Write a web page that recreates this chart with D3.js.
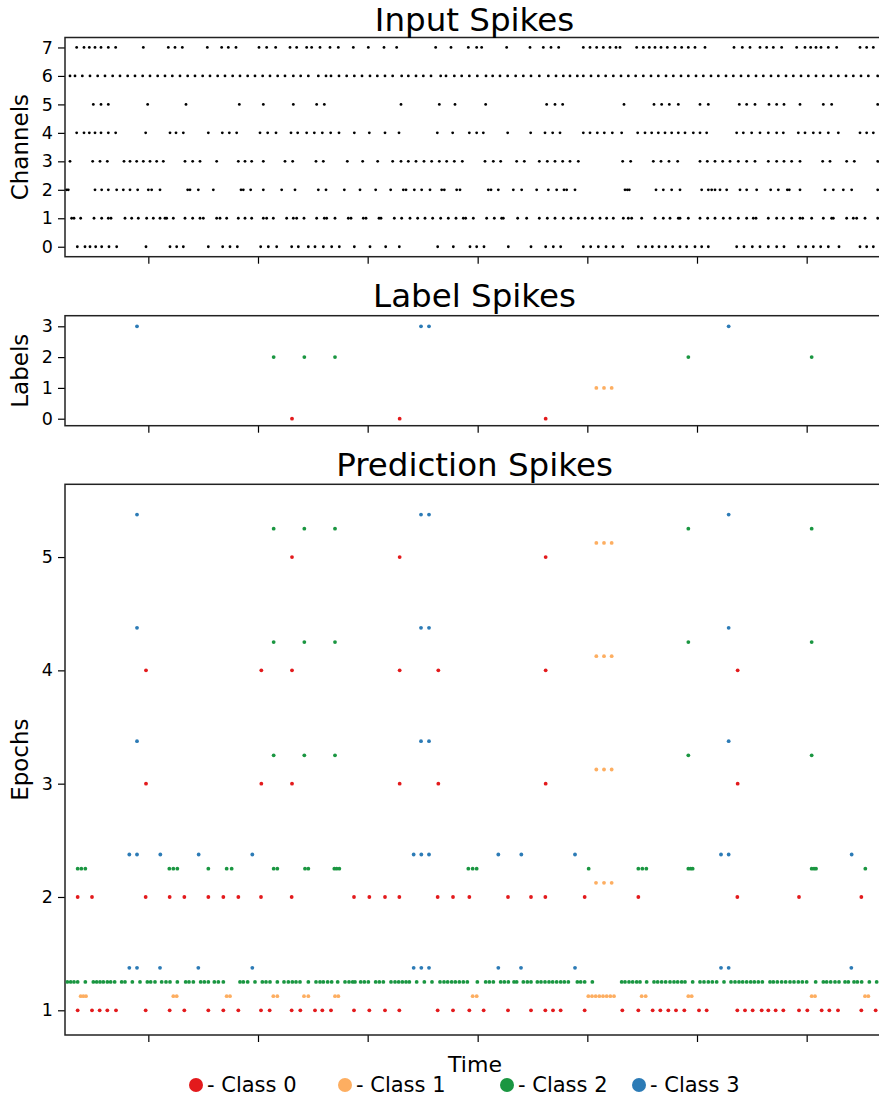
<!DOCTYPE html>
<html><head><meta charset="utf-8">
<script src="https://cdn.jsdelivr.net/npm/d3@7"></script>
<style>body{margin:0;background:#fff;} svg{display:block;font-family:"DejaVu Sans",sans-serif;}</style>
</head><body><svg id="c" width="879" height="1100"></svg>
<script>
// ---- time axis (ms) ----
const timeDomain = [0, 2457];
const timeTicks = [250, 579, 908, 1238, 1567, 1896, 2225];

// ---- input spikes per channel ----
const ch0 = [37,60,75,92,110,132,155,243,315,335,355,430,473,495,517,587,610,635,680,700,730,750,775,800,823,868,915,962,1003,1118,1165,1215,1235,1257,1330,1398,1442,1465,1487,1555,1577,1600,1623,1645,1673,1720,1742,1762,1782,1802,1823,1845,1865,1890,1910,1930,2015,2037,2062,2085,2110,2135,2157,2200,2222,2245,2267,2290,2322,2385,2405,2425];
const ch1 = [20,27,47,87,110,130,138,180,200,220,245,265,285,300,305,325,360,383,405,415,455,465,485,520,540,560,595,605,625,665,685,695,717,755,778,785,810,850,858,895,903,942,948,988,1010,1035,1058,1080,1103,1127,1150,1173,1195,1202,1225,1265,1288,1310,1315,1358,1385,1423,1447,1470,1495,1518,1540,1560,1582,1605,1625,1645,1675,1690,1700,1730,1770,1795,1815,1840,1845,1870,1905,1928,1950,1975,1995,2020,2045,2065,2073,2110,2135,2155,2180,2205,2213,2240,2275,2300,2305,2345,2365,2375,2400,2438];
const ch2 = [5,10,90,110,130,155,175,195,218,250,260,285,368,375,400,445,528,535,557,595,650,690,760,783,838,885,932,977,1015,1023,1048,1070,1095,1130,1138,1175,1185,1270,1278,1300,1345,1370,1415,1450,1475,1497,1505,1530,1680,1687,1693,1773,1795,1820,1845,1910,1930,1940,1950,1965,1985,2025,2045,2075,2117,2140,2167,2173,2205,2280,2305,2335,2360,2438];
const ch3 = [15,83,105,127,177,195,215,235,255,275,295,360,383,405,455,520,540,560,595,660,683,753,775,847,893,938,983,1008,1030,1053,1077,1100,1123,1145,1168,1192,1260,1285,1307,1355,1378,1423,1447,1470,1493,1515,1540,1673,1697,1765,1788,1812,1838,1905,1927,1950,1973,1995,2020,2045,2070,2110,2135,2157,2180,2205,2273,2295,2345,2368,2438];
const ch4 = [35,57,73,90,108,130,152,242,315,333,355,430,472,493,515,585,608,633,678,698,725,748,772,797,822,868,913,960,1002,1117,1163,1213,1235,1255,1328,1397,1440,1463,1485,1555,1575,1597,1618,1642,1670,1718,1740,1760,1780,1800,1820,1840,1860,1885,1905,1925,2015,2035,2060,2085,2110,2135,2155,2200,2220,2245,2265,2290,2320,2385,2405,2425];
const ch5 = [85,108,130,248,363,523,595,685,755,778,1008,1123,1170,1262,1445,1470,1493,1677,1767,1790,1813,1840,1905,1930,2023,2045,2070,2112,2135,2157,2205,2275,2300,2438];
const ch6 = [15,30,52,75,98,120,143,165,188,210,233,255,278,300,322,345,368,390,413,435,458,480,503,525,548,570,593,615,638,660,685,707,730,760,783,798,822,845,868,891,915,937,960,983,1010,1030,1053,1075,1098,1127,1143,1168,1190,1213,1237,1263,1283,1305,1328,1352,1375,1398,1423,1450,1473,1495,1515,1537,1555,1578,1600,1622,1645,1668,1690,1712,1735,1758,1780,1803,1825,1848,1870,1893,1915,1938,1960,1983,2005,2028,2050,2073,2095,2118,2140,2163,2185,2208,2230,2253,2275,2298,2320,2343,2365,2388,2410,2438];
const ch7 = [35,57,73,90,108,130,152,235,310,330,352,427,470,490,513,582,605,632,675,695,725,740,765,795,820,865,910,957,995,1112,1158,1210,1235,1250,1325,1395,1435,1458,1481,1555,1575,1595,1615,1635,1653,1665,1715,1735,1753,1770,1788,1807,1830,1850,1870,1890,1920,2007,2032,2055,2085,2105,2125,2150,2195,2220,2237,2253,2268,2290,2315,2385,2405,2425];
const channelTicks = [0,1,2,3,4,5,6,7];

// ---- label spikes ----
const label0 = [681,1004,1442];
const label1 = [1594,1617,1640];
const label2 = [626,718,810,1870,2240];
const label3 = [216,1068,1092,1991];
const labelTicks = [0,1,2,3];

// ---- prediction spikes (class, epoch) ----
const c0e5 = [681,1004,1442];
const c1e5 = [1594,1617,1640];
const c2e5 = [626,718,810,1870,2240];
const c3e5 = [216,1068,1092,1991];
const c0e4 = [243,589,681,1004,1120,1442,2018];
const c1e4 = [1594,1617,1640];
const c2e4 = [626,718,810,1870,2240];
const c3e4 = [216,1068,1092,1991];
const c0e3 = [243,589,681,1004,1120,1442,2018];
const c1e3 = [1594,1617,1640];
const c2e3 = [626,718,810,1870,2240];
const c3e3 = [216,1068,1092,1991];
const c0e2 = [38,81,242,314,358,430,475,520,588,680,867,913,960,1003,1118,1164,1213,1329,1398,1441,1559,1720,2017,2202,2389];
const c1e2 = [1593,1617,1640];
const c2e2 = [38,49,61,313,325,337,430,485,500,626,637,720,730,808,815,823,1210,1223,1235,1571,1720,1732,1744,1870,1877,1883,2240,2247,2253,2401];
const c3e2 = [193,216,286,401,562,1046,1069,1092,1300,1369,1530,1968,1991,2360];
const c0e1 = [38,81,104,127,153,242,314,358,430,475,520,588,614,680,706,750,772,798,867,913,960,1003,1118,1164,1213,1256,1329,1398,1441,1464,1487,1559,1672,1720,1763,1786,1810,1833,1858,1902,1925,2017,2040,2063,2090,2110,2132,2155,2202,2227,2270,2293,2319,2389,2432];
const c1e1 = [47,55,63,325,335,485,495,625,637,717,730,810,820,1223,1235,1570,1581,1592,1603,1614,1625,1636,1647,1730,1742,1870,1880,2240,2250,2400,2410];
const c2e1 = [7,17,27,38,61,85,95,105,115,127,137,149,170,180,202,225,247,257,270,290,303,315,337,362,372,385,407,418,430,448,460,475,525,535,548,570,592,603,615,637,657,670,682,693,705,730,753,765,775,788,800,818,840,852,863,870,887,898,910,932,943,955,978,990,1001,1012,1023,1033,1055,1078,1101,1125,1137,1148,1160,1171,1183,1195,1207,1237,1262,1273,1285,1307,1318,1330,1347,1355,1375,1387,1398,1417,1428,1440,1452,1463,1475,1487,1498,1510,1537,1547,1559,1582,1670,1680,1692,1703,1715,1725,1745,1767,1778,1790,1802,1815,1827,1838,1850,1860,1883,1905,1917,1930,1942,1955,1977,1998,2010,2022,2033,2045,2057,2068,2080,2092,2115,2125,2137,2150,2162,2175,2187,2200,2212,2225,2252,2275,2285,2297,2310,2322,2340,2350,2367,2377,2390,2413,2435];
const c3e1 = [193,216,285,400,562,1046,1069,1092,1300,1368,1530,1968,1991,2359];
const epochTicks = [1,2,3,4,5];
const classOffsets = [0, 0.125, 0.25, 0.375];

const classNames = ["- Class 0","- Class 1","- Class 2","- Class 3"];
const classColors = ["#e31a1c","#fdae61","#1a9641","#2c7bb6"];

// ---- layout ----
const svg = d3.select("#c");
const L = 65, R = 884;
const x = d3.scaleLinear().domain(timeDomain).range([L, R]);

function panel(top, bottom, yDomain, yTicks, title, ylabel, titleGap) {
  const y = d3.scaleLinear().domain(yDomain).range([bottom, top]);
  const g = svg.append("g");
  const ya = g.append("g").attr("transform", `translate(${L},0)`)
    .call(d3.axisLeft(y).tickValues(yTicks).tickFormat(d3.format("d")).tickSize(7).tickPadding(5));
  ya.select(".domain").remove();
  ya.selectAll("text").attr("font-size", 17.5).attr("font-family", "DejaVu Sans").attr("fill", "#000");
  ya.selectAll("line").attr("stroke", "#000").attr("stroke-width", 1.2);
  const xa = g.append("g").attr("transform", `translate(0,${bottom})`)
    .call(d3.axisBottom(x).tickValues(timeTicks).tickFormat("").tickSize(7));
  xa.select(".domain").remove();
  xa.selectAll("line").attr("stroke", "#000").attr("stroke-width", 1.2);
  g.append("rect").attr("x", L).attr("y", top).attr("width", R - L).attr("height", bottom - top)
    .attr("fill", "none").attr("stroke", "#222").attr("stroke-width", 1.5);
  g.append("text").attr("x", (L + R) / 2).attr("y", top - titleGap).attr("text-anchor", "middle")
    .attr("font-size", 32.5).text(title);
  g.append("text").attr("transform", `translate(28,${(top + bottom) / 2}) rotate(-90)`)
    .attr("text-anchor", "middle").attr("font-size", 23).text(ylabel);
  return {g, y};
}

// Input spikes
const p1 = panel(37.5, 256.7, [-0.35, 7.35], channelTicks, "Input Spikes", "Channels", 7);
const channels = [ch0, ch1, ch2, ch3, ch4, ch5, ch6, ch7];
channels.forEach((arr, c) => {
  p1.g.append("g").selectAll("circle").data(arr).join("circle")
    .attr("cx", d => x(d)).attr("cy", p1.y(c)).attr("r", 1.4).attr("fill", "#000");
});

// Label spikes
const p2 = panel(315.7, 425.7, [-0.227, 3.344], labelTicks, "Label Spikes", "Labels", 8.7);
[label0, label1, label2, label3].forEach((arr, c) => {
  p2.g.append("g").selectAll("circle").data(arr).join("circle")
    .attr("cx", d => x(d)).attr("cy", p2.y(c)).attr("r", 1.9).attr("fill", classColors[c]);
});

// Prediction spikes
const p3 = panel(484.3, 1035, [0.782, 5.642], epochTicks, "Prediction Spikes", "Epochs", 8.7);
const preds = [
  [c0e1, c0e2, c0e3, c0e4, c0e5],
  [c1e1, c1e2, c1e3, c1e4, c1e5],
  [c2e1, c2e2, c2e3, c2e4, c2e5],
  [c3e1, c3e2, c3e3, c3e4, c3e5]
];
preds.forEach((byEpoch, c) => {
  byEpoch.forEach((arr, e) => {
    const lvl = epochTicks[e] + classOffsets[c];
    p3.g.append("g").selectAll("circle").data(arr).join("circle")
      .attr("cx", d => x(d)).attr("cy", p3.y(lvl)).attr("r", 1.9).attr("fill", classColors[c]);
  });
});

// x label
svg.append("text").attr("x", 475).attr("y", 1072).attr("text-anchor", "middle")
  .attr("font-size", 22).text("Time");

// legend
const legendX = [196, 345, 507, 639];
const lg = svg.append("g");
classNames.forEach((n, i) => {
  lg.append("circle").attr("cx", legendX[i]).attr("cy", 1085).attr("r", 7).attr("fill", classColors[i]);
  lg.append("text").attr("x", legendX[i] + 11).attr("y", 1092).attr("font-size", 21).text(n);
});
</script></body></html>
